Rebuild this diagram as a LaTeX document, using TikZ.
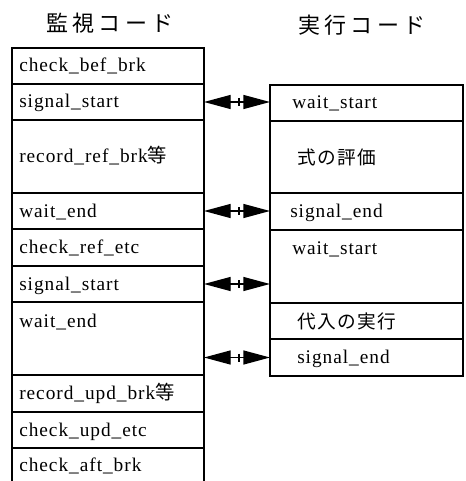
\documentclass[tikz,border=0pt]{standalone}
\usepackage{fontspec}
\setmainfont[LetterSpace=5]{Liberation Serif}
\newfontfamily\jp[LetterSpace=8]{Noto Sans CJK JP}
\newfontfamily\jpt[LetterSpace=19]{Noto Sans CJK JP}
\usetikzlibrary{arrows.meta,calc}
\begin{document}
\begin{tikzpicture}[x=0.75pt,y=-0.75pt,
  row/.style={draw, line width=1.2pt, minimum width=144pt, inner sep=0pt, outer sep=0pt, anchor=north west},
  rrow/.style={row, minimum width=144.75pt},
  hs/.style={minimum height=27pt},
  hm/.style={minimum height=27.75pt},
  ht/.style={minimum height=54.75pt},
  lbl/.style={anchor=base west, inner sep=0pt, font=\fontsize{14.5}{16}\selectfont},
  jlbl/.style={anchor=base west, inner sep=0pt, font=\fontsize{14}{16}\selectfont\jp},
  title/.style={inner sep=0pt, font=\fontsize{16.5}{18}\selectfont\jpt},
  conn/.style={line width=1pt, {Triangle[length=20pt,width=10.5pt]}-{Triangle[length=20pt,width=10.5pt]}},
  tickst/.style={line width=1pt}
]
\useasboundingbox (0,0) rectangle (466,481);

% titles
\node[title] (T1) at (110,23) {監視コード};
\node[title] (T2) at (362,25) {実行コード};

% left column
\node[row,hs] (L1) at (12,48) {};
\node[row,hs] (L2) at (L1.south west) {};
\node[row,ht] (L3) at (L2.south west) {};
\node[row,hs] (L4) at (L3.south west) {};
\node[row,hm] (L5) at (L4.south west) {};
\node[row,hs] (L6) at (L5.south west) {};
\node[row,ht] (L7) at (L6.south west) {};
\node[row,hm] (L8) at (L7.south west) {};
\node[row,hs] (L9) at (L8.south west) {};
\coordinate (B1) at (12,481);
\coordinate (B2) at (204,481);
\draw[line width=1.2pt] (B1) -- (L9.south west);
\draw[line width=1.2pt] (B2) -- (L9.south east);

% right column
\node[rrow,hs] (R1) at (270,85) {};
\node[rrow,minimum height=54pt] (R2) at (R1.south west) {};
\node[rrow,hm] (R3) at (R2.south west) {};
\node[rrow,ht] (R4) at (R3.south west) {};
\node[rrow,hs] (R5) at (R4.south west) {};
\node[rrow,hm] (R6) at (R5.south west) {};

% left labels
\node[lbl] (t1) at ($(L1.west)+(7,6)$) {check\_bef\_brk};
\node[lbl] (t2) at ($(L2.west)+(7,6)$) {signal\_start};
\node[lbl] (t3) at ($(L3.west)+(7,6)$) {record\_ref\_brk{\jp 等}};
\node[lbl] (t4) at ($(L4.west)+(7,6)$) {wait\_end};
\node[lbl] (t5) at ($(L5.west)+(7,6)$) {check\_ref\_etc};
\node[lbl] (t6) at ($(L6.west)+(7,6)$) {signal\_start};
\node[lbl] (t7) at ($(L7.north west)+(7,25)$) {wait\_end};
\node[lbl] (t8) at ($(L8.west)+(7,6)$) {record\_upd\_brk{\jp 等}};
\node[lbl] (t9) at ($(L9.west)+(7,6)$) {check\_upd\_etc};
\node[lbl] (t10) at ($(L9.south west)+(7,23)$) {check\_aft\_brk};

% right labels
\node[lbl] (u1) at ($(R1.west)+(22,6)$) {wait\_start};
\node[jlbl] (u2) at ($(R2.west)+(27,7)$) {式の評価};
\node[lbl] (u3) at ($(R3.west)+(20,6)$) {signal\_end};
\node[lbl] (u4) at ($(R4.north west)+(22,24)$) {wait\_start};
\node[jlbl] (u5) at ($(R5.west)+(27,7)$) {代入の実行};
\node[lbl] (u6) at ($(R6.west)+(27,6)$) {signal\_end};

% connectors
\draw[conn] (L2.east) -- (L2.east -| R1.west) coordinate[pos=0.53] (m1);
\draw[conn] (L4.east) -- (L4.east -| R3.west) coordinate[pos=0.53] (m2);
\draw[conn] (L6.east) -- (L6.east -| R4.west) coordinate[pos=0.53] (m3);
\draw[conn] (R6.west -| L7.east) -- (R6.west) coordinate[pos=0.53] (m4);
\foreach \m in {m1,m2,m3,m4}{
  \draw[tickst] ([yshift=3pt]\m) -- ([yshift=-3pt]\m);
}
\end{tikzpicture}
\end{document}
